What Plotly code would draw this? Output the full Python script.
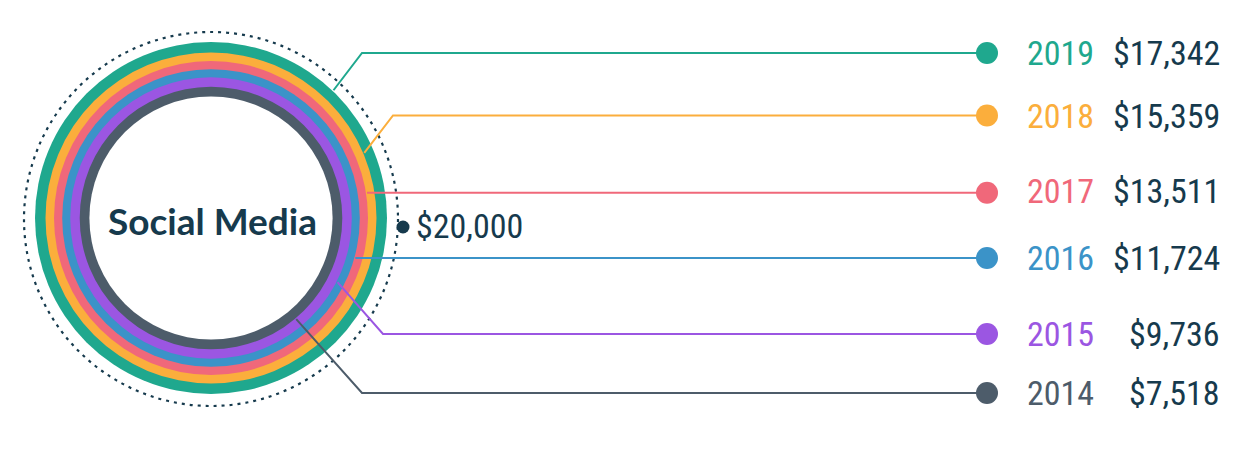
import math
import plotly.graph_objects as go

# data
years = ["2019", "2018", "2017", "2016", "2015", "2014"]
amounts = [17342, 15359, 13511, 11724, 9736, 7518]
scale_max = 20000
center_label = "Social Media"

# style
colors = ["#1fa88e", "#fbae3c", "#f0687a", "#3b93c8", "#9b56e2", "#4d5c6a"]
navy = "#163a4d"
num_family = "Roboto Condensed, Roboto, sans-serif"

W, H = 1237, 454
PAD = 8  # page body margin, the axes below are in screen pixels
cx, cy = 211, 218
ring_outer = [176, 165.5, 157, 148.8, 140.8, 131.3]
hole_r = 121.6
dotted_r = 187

# leader geometry: start angle on ring, bend x, label row y
start_deg = [46.2, 23.0, 9.2, -15.5, -26.9, -49.9]
bend_x = [362, 393, None, None, 383, 362]
row_y = [53, 115.5, 191, 257.5, 334, 393]
dot_x = 987
year_x = 1060
value_x = 1222

fig = go.Figure()
shapes = []

# rings, drawn as stacked discs from outer to inner
for i, yr in enumerate(years):
    r = ring_outer[i]
    shapes.append(dict(type="circle", xref="x", yref="y", layer="below",
                       x0=cx - r, x1=cx + r, y0=cy - r, y1=cy + r,
                       fillcolor=colors[i], line=dict(width=0)))
shapes.append(dict(type="circle", xref="x", yref="y", layer="below",
                   x0=cx - hole_r, x1=cx + hole_r, y0=cy - hole_r, y1=cy + hole_r,
                   fillcolor="white", line=dict(width=0)))
shapes.append(dict(type="circle", xref="x", yref="y", layer="below",
                   x0=cx - dotted_r, x1=cx + dotted_r, y0=cy + 1 - dotted_r, y1=cy + 1 + dotted_r,
                   line=dict(color=navy, width=2.2, dash="3px,5px")))

for i, yr in enumerate(years):
    a = math.radians(start_deg[i])
    r = ring_outer[i] + 1
    sx, sy = cx + r * math.cos(a), cy - r * math.sin(a)
    bx = bend_x[i] if bend_x[i] is not None else sx
    by = row_y[i] if bend_x[i] is not None else sy
    fig.add_trace(go.Scatter(x=[sx, bx, dot_x], y=[sy, by, by], mode="lines",
                             line=dict(color=colors[i], width=2), hoverinfo="skip"))
    fig.add_trace(go.Scatter(x=[dot_x], y=[by], mode="markers",
                             marker=dict(color=colors[i], size=22), hoverinfo="skip"))

annotations = []
for i, yr in enumerate(years):
    annotations.append(dict(x=year_x, y=row_y[i], text=yr, showarrow=False,
                            xanchor="center", yanchor="middle",
                            font=dict(family=num_family, size=34, color=colors[i])))
    annotations.append(dict(x=value_x, y=row_y[i], text="${:,}".format(amounts[i]), showarrow=False,
                            xanchor="right", yanchor="middle",
                            font=dict(family=num_family, size=34, color=navy)))

# max marker on the dotted ring
fig.add_trace(go.Scatter(x=[cx + dotted_r + 5], y=[cy + 9], mode="markers",
                         marker=dict(color=navy, size=13), hoverinfo="skip"))
annotations.append(dict(x=cx + dotted_r + 16, y=cy + 8, text="${:,}".format(scale_max),
                        showarrow=False, xanchor="left", yanchor="middle",
                        font=dict(family=num_family, size=34, color=navy)))
annotations.append(dict(x=cx + 1, y=cy + 2, text=center_label, showarrow=False,
                        xanchor="center", yanchor="middle",
                        font=dict(family="Lato, Open Sans, sans-serif", size=37, color=navy, weight="bold")))

fig.update_layout(
    width=W - 2 * PAD, height=H - 2 * PAD, margin=dict(l=0, r=0, t=0, b=0),
    paper_bgcolor="white", plot_bgcolor="white", showlegend=False,
    shapes=shapes, annotations=annotations,
    xaxis=dict(range=[PAD, W - PAD], visible=False, fixedrange=True),
    yaxis=dict(range=[H - PAD, PAD], visible=False, fixedrange=True),
)

fig.write_html("out.html")
